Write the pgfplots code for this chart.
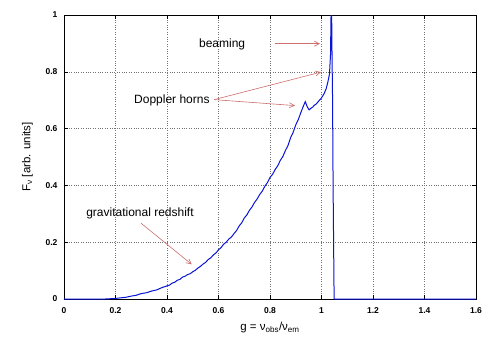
\documentclass[border=0pt]{standalone}
\usepackage{fontspec}
\setmainfont{Liberation Sans}
\usepackage{pgfplots}
\pgfplotsset{compat=1.18}
\usetikzlibrary{arrows.meta,calc}

\definecolor{curveblue}{RGB}{10,20,215}
\definecolor{arrowred}{RGB}{205,110,110}

\pgfplotstableread{
g F
0.000 0.000
0.130 0.000
0.160 0.000
0.180 0.001
0.200 0.002
0.220 0.004
0.240 0.006
0.260 0.010
0.280 0.013
0.300 0.019
0.320 0.022
0.340 0.028
0.360 0.032
0.380 0.040
0.400 0.046
0.410 0.049
0.420 0.056
0.430 0.059
0.440 0.066
0.450 0.069
0.460 0.077
0.470 0.080
0.480 0.086
0.490 0.089
0.500 0.096
0.510 0.101
0.520 0.109
0.530 0.115
0.540 0.123
0.550 0.129
0.560 0.139
0.570 0.145
0.580 0.155
0.590 0.162
0.600 0.173
0.610 0.181
0.620 0.193
0.630 0.200
0.640 0.211
0.650 0.218
0.660 0.230
0.670 0.241
0.680 0.257
0.690 0.268
0.700 0.285
0.710 0.296
0.720 0.312
0.730 0.324
0.740 0.340
0.750 0.352
0.760 0.368
0.770 0.380
0.780 0.397
0.790 0.410
0.800 0.428
0.810 0.439
0.820 0.456
0.830 0.469
0.840 0.488
0.850 0.502
0.860 0.523
0.870 0.541
0.880 0.568
0.890 0.587
0.900 0.613
0.910 0.632
0.920 0.657
0.930 0.680
0.937 0.695
0.945 0.676
0.952 0.666
0.958 0.671
0.965 0.675
0.972 0.682
0.980 0.687
0.990 0.698
1.000 0.708
1.010 0.723
1.018 0.740
1.025 0.765
1.031 0.792
1.035 0.860
1.037 1.000
1.039 1.050
1.041 0.850
1.043 0.700
1.045 0.400
1.047 0.200
1.049 0.000
1.600 0.000
}\spectrum

\begin{document}
\begin{tikzpicture}
\begin{axis}[
  scale only axis,
  width=412pt, height=284pt,
  xmin=0, xmax=1.6, ymin=0, ymax=1,
  xtick={0,0.2,...,1.6}, ytick={0,0.2,...,1},
  grid=major,
  major grid style={black!55, dash pattern=on 0.8pt off 1.6pt, line width=0.5pt},
  axis line style={black, line width=0.8pt},
  tick style={black, line width=0.5pt},
  major tick length=4pt,
  tick align=inside,
  xtick pos=both, ytick pos=both,
  /pgf/number format/assume math mode=true,
  tick label style={font=\fontsize{8.5}{9}\selectfont\bfseries},
  xticklabel style={yshift=-5pt},
  yticklabel style={xshift=-3pt},
  label style={font=\fontsize{11.5}{13}\selectfont},
  xlabel={g = ν\textsubscript{obs}/ν\textsubscript{em}},
  ylabel={F\textsubscript{ν} [arb. units]},
  xlabel style={yshift=-2pt},
  ylabel style={yshift=6pt},
  clip=true,
]
\addplot[curveblue, line width=1pt] table[x=g, y=F] {\spectrum};

\begin{scope}[font=\fontsize{12}{14}\selectfont]
\node at (axis cs:0.614,0.896) {beaming};
\node at (axis cs:0.419,0.698) {Doppler horns};
\node at (axis cs:0.295,0.300) {gravitational redshift};
\end{scope}
\begin{scope}[arrowred, line width=0.6pt, -{Straight Barb[length=5pt,width=5pt]}]
\draw (axis cs:0.819,0.899) -- (axis cs:0.994,0.899);
\draw (axis cs:0.583,0.702) -- (axis cs:0.998,0.799);
\draw (axis cs:0.583,0.702) -- (axis cs:0.897,0.681);
\draw (axis cs:0.299,0.267) -- (axis cs:0.496,0.122);
\end{scope}
\end{axis}
\path ($(current axis.south west)+(-64pt,-50pt)$) rectangle ($(current axis.north east)+(22pt,15pt)$);
\end{tikzpicture}
\end{document}
